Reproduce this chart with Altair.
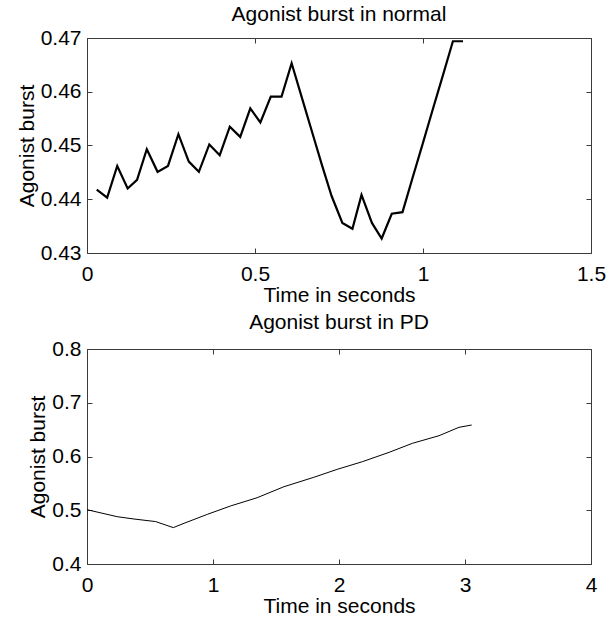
import altair as alt
import pandas as pd

# ---- data ----
time_normal = [0.029, 0.060, 0.090, 0.121, 0.149, 0.178, 0.210, 0.241, 0.272, 0.303,
               0.333, 0.364, 0.395, 0.425, 0.456, 0.486, 0.516, 0.547, 0.579, 0.609,
               0.639, 0.669, 0.700, 0.728, 0.760, 0.790, 0.817, 0.848, 0.877, 0.907,
               0.939, 0.969, 0.999, 1.029, 1.059, 1.089, 1.119]
burst_normal = [0.4418, 0.4403, 0.4462, 0.4420, 0.4436, 0.4493, 0.4451, 0.4462, 0.4521, 0.4470,
                0.4451, 0.4502, 0.4482, 0.4535, 0.4516, 0.4569, 0.4543, 0.4591, 0.4591, 0.4653,
                0.4590, 0.4527, 0.4462, 0.4406, 0.4356, 0.4345, 0.4408, 0.4356, 0.4327, 0.4373,
                0.4376, 0.4440, 0.4503, 0.4567, 0.4630, 0.4694, 0.4694]

time_pd = [0.0, 0.24, 0.373, 0.545, 0.685, 0.77, 0.955, 1.14, 1.35, 1.563, 1.8, 1.987,
           2.185, 2.397, 2.582, 2.794, 2.952, 3.053]
burst_pd = [0.501, 0.488, 0.4837, 0.4789, 0.4677, 0.4757, 0.4924, 0.508, 0.5233, 0.5438,
            0.5613, 0.5762, 0.5903, 0.6077, 0.6245, 0.6387, 0.6543, 0.6586]

x_ticks_top = [0, 0.5, 1, 1.5]
y_ticks_top = [0.43, 0.44, 0.45, 0.46, 0.47]
x_ticks_bot = [0, 1, 2, 3, 4]
y_ticks_bot = [0.4, 0.5, 0.6, 0.7, 0.8]

FONT = "Liberation Sans"
FS = 21
TICK = "#3a3a3a"


def panel(t, v, title, xdom, xticks, ydom, yticks, lw, toff):
    df = pd.DataFrame({"t": t, "v": v})
    xs = alt.Scale(domain=xdom, nice=False, zero=False)
    ys = alt.Scale(domain=ydom, nice=False, zero=False)
    common = dict(offset=-5, tickSize=5, domain=False, grid=False, tickColor=TICK,
                  labelFont=FONT, labelFontSize=FS, labelColor="black",
                  titleFont=FONT, titleFontSize=FS, titleFontWeight="normal", titleColor="black",
                  labelFlush=False, labelOverlap=False, format="~g")
    line = alt.Chart(df).mark_line(color="black", strokeWidth=lw).encode(
        x=alt.X("t:Q", scale=xs,
                axis=alt.Axis(orient="bottom", values=xticks, title="Time in seconds",
                              labelPadding=10, titlePadding=0, **common)),
        y=alt.Y("v:Q", scale=ys,
                axis=alt.Axis(orient="left", values=yticks, title="Agonist burst",
                              labelPadding=6, titlePadding=3, **common)),
    )
    ticks = alt.Chart(df).mark_line(opacity=0).encode(
        x=alt.X("t:Q", scale=xs,
                axis=alt.Axis(orient="top", values=xticks, title="", labels=False, **common)),
        y=alt.Y("v:Q", scale=ys,
                axis=alt.Axis(orient="right", values=yticks, title="", labels=False, **common)),
    )
    return alt.layer(line, ticks).resolve_axis(x="independent", y="independent").properties(
        width=504, height=215,
        title=alt.TitleParams(title, font=FONT, fontSize=FS, fontWeight="normal", color="black",
                              offset=toff),
    )


top = panel(time_normal, burst_normal, "Agonist burst in normal", [0, 1.5], x_ticks_top,
            [0.43, 0.47], y_ticks_top, 2.2, 2)
bot = panel(time_pd, burst_pd, "Agonist burst in PD", [0, 4], x_ticks_bot,
            [0.4, 0.8], y_ticks_bot, 1.0, 5)

chart = alt.vconcat(top, bot, spacing=5).properties(
    background="white",
    padding={"left": 15, "top": 3, "right": 0, "bottom": 0},
).configure_view(stroke="#3a3a3a", strokeWidth=1)

chart.save("out.html", embed_options={"renderer": "svg", "actions": False})
